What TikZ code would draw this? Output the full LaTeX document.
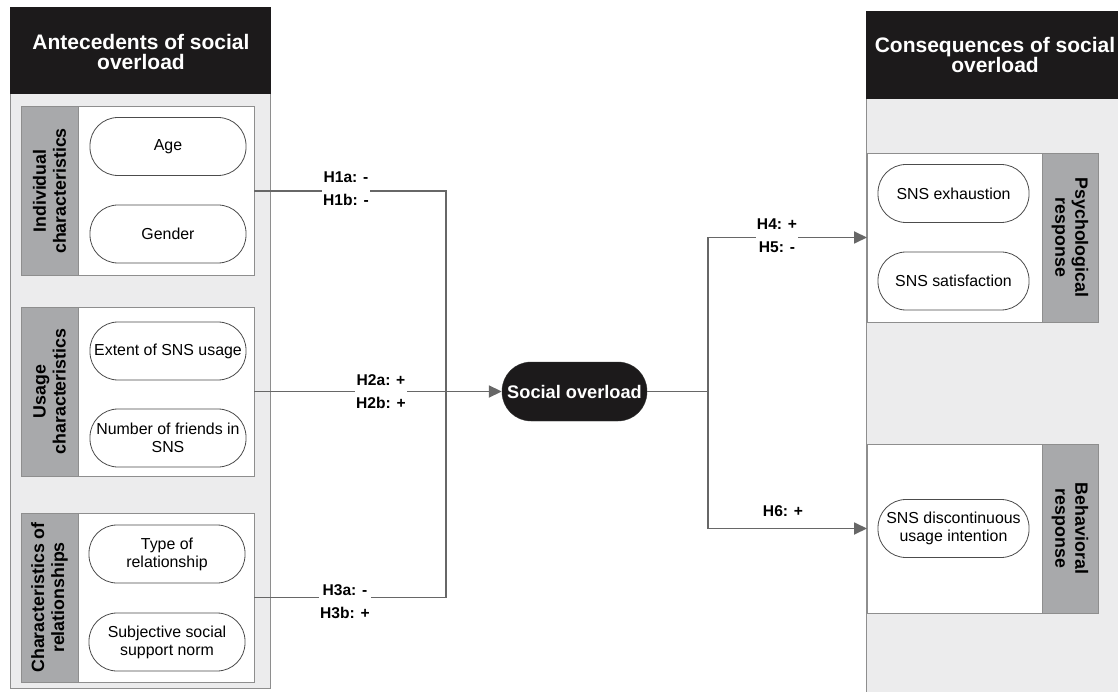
\documentclass[tikz,border=0pt]{standalone}
\usepackage{fontspec}
\setmainfont{Liberation Sans}
\usetikzlibrary{arrows.meta,positioning}
\definecolor{panelgray}{HTML}{ECECED}
\definecolor{colgray}{HTML}{A8A9AB}
\definecolor{headblack}{HTML}{1C1A1B}
\definecolor{linegray}{HTML}{676767}
\definecolor{edgegray}{HTML}{8E8E8E}

\begin{document}
\begin{tikzpicture}[x=1pt,y=-1pt,
  panel/.style={fill=panelgray,draw=edgegray,line width=0.8pt},
  header/.style={fill=headblack,draw=headblack},
  headtext/.style={text=white,align=center,font=\fontsize{21}{20}\selectfont\bfseries},
  whitebox/.style={draw=edgegray,fill=white,line width=0.9pt,outer sep=0pt,minimum width=176pt,minimum height=169pt},
  colbox/.style={draw=edgegray,fill=colgray,line width=0.9pt,outer sep=0pt,minimum width=57pt,minimum height=169pt},
  collabel/.style={align=center,font=\fontsize{17.8}{20}\selectfont\bfseries},
  pill/.style={draw=black!70,fill=white,line width=0.8pt,rounded corners=28pt,minimum width=156pt,minimum height=58pt,inner xsep=1pt,align=center,font=\fontsize{15.9}{18}\selectfont},
  conn/.style={draw=linegray,line width=1.8pt},
  tip/.style={-{Triangle[length=13pt,width=12pt]}},
  hyp/.style={fill=white,inner sep=1pt,align=center,font=\fontsize{15.6}{23}\selectfont\bfseries}
]
\path[use as bounding box,clip] (0,0) rectangle (1118,692);

% left panel
\draw[panel] (10,7) rectangle (270,688);
\draw[header] (10,7) rectangle (270,93);
\node[headtext] at (141,52) {Antecedents of social\\overload};

\node[whitebox] (g1) at (166,191) {};
\node[colbox,left=0pt of g1] (c1) {};
\node[collabel,rotate=90] at (c1) {Individual\\characteristics};
\node[pill] (age) at (168,146.5) {Age};
\node[pill] (gender) at (168,234) {Gender};

\node[whitebox] (g2) at (166,391.5) {};
\node[colbox,left=0pt of g2] (c2) {};
\node[collabel,rotate=90] at (c2) {Usage\\characteristics};
\node[pill] (extent) at (168,351) {Extent of SNS usage};
\node[pill] (friends) at (168,438) {Number of friends in\\SNS};

\node[whitebox] (g3) at (166,597.5) {};
\node[colbox,left=0pt of g3] (c3) {};
\node[collabel,rotate=90] at (c3) {Characteristics of\\relationships};
\node[pill] (type) at (167,554) {Type of\\relationship};
\node[pill] (norm) at (167,642) {Subjective social\\support norm};

% right panel
\draw[panel] (866,11) rectangle (1140,710);
\draw[header] (866,11) rectangle (1140,98);
\node[headtext] at (995,55) {Consequences of social\\overload};

\node[whitebox,minimum width=175pt] (p1) at (954.5,237.5) {};
\node[colbox,minimum width=56pt,right=0pt of p1] (c4) {};
\node[collabel,rotate=-90] at (c4) {Psychological\\response};
\node[pill,minimum width=151pt] (exh) at (953.5,193.5) {SNS exhaustion};
\node[pill,minimum width=151pt] (sat) at (953.5,281) {SNS satisfaction};

\node[whitebox,minimum width=175pt] (b1) at (954.5,528.5) {};
\node[colbox,minimum width=56pt,right=0pt of b1] (c5) {};
\node[collabel,rotate=-90] at (c5) {Behavioral\\response};
\node[pill,minimum width=151pt] (disc) at (953.5,528.5) {SNS discontinuous\\usage intention};

% centre
\node[fill=headblack,draw=black!80,rounded corners=29pt,minimum width=145pt,minimum height=59pt,
  text=white,font=\fontsize{18.2}{20}\selectfont\bfseries] (so) at (574.5,391.5) {Social overload};

% connectors
\coordinate (j1) at (446,0 |- g1.east);
\coordinate (j3) at (446,0 |- g3.east);
\coordinate (fork) at (708,0 |- so.east);
\draw[conn] (g1.east) -- (j1) -- (j3) -- (g3.east);
\draw[conn,tip] (g2.east) -- (so.west);
\draw[conn] (so.east) -- (fork);
\draw[conn,tip] (fork) |- (p1.west);
\draw[conn,tip] (fork) |- (b1.west);

% hypotheses
\node[hyp] (h1) at (346,189) {H1a: -\\H1b: -};
\node[hyp] (h2) at (381,392) {H2a: +\\H2b: +};
\node[hyp] (h3) at (345,602) {H3a: -\\H3b: +};
\node[hyp] (h4) at (777,236) {H4: +\\H5: -};
\node[hyp,fill=none] (h6) at (783,511) {H6: +};
\end{tikzpicture}
\end{document}
